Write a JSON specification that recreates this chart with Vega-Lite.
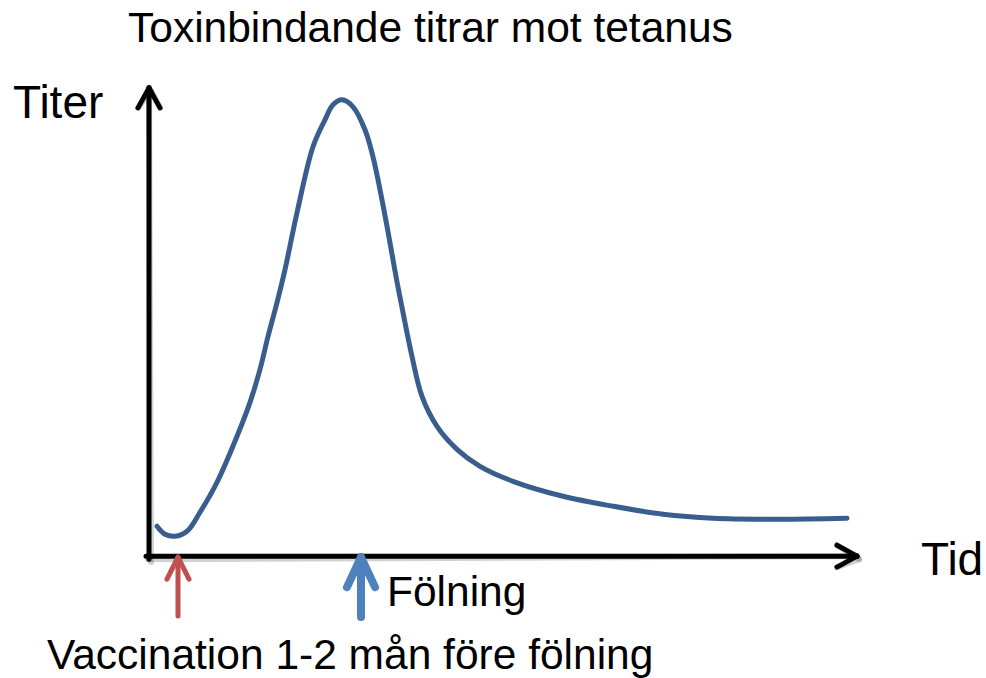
{
  "$schema": "https://vega.github.io/schema/vega-lite/v6.json",
  "autosize": {"type": "fit", "contains": "padding"},
  "width": 986,
  "height": 678,
  "padding": 0,
  "background": "white",
  "config": {"view": {"stroke": null}},
  "datasets": {
    "curve": [
      {"tid": 8, "titer": 30}, {"tid": 16, "titer": 22}, {"tid": 26, "titer": 20}, {"tid": 38, "titer": 25},
      {"tid": 51, "titer": 44}, {"tid": 68, "titer": 74}, {"tid": 88, "titer": 120}, {"tid": 101, "titer": 154},
      {"tid": 111, "titer": 187}, {"tid": 119, "titer": 220}, {"tid": 128, "titer": 254}, {"tid": 136, "titer": 287},
      {"tid": 148, "titer": 344}, {"tid": 164, "titer": 410}, {"tid": 176, "titer": 437}, {"tid": 184, "titer": 452},
      {"tid": 193, "titer": 457}, {"tid": 204, "titer": 450}, {"tid": 216, "titer": 427}, {"tid": 224, "titer": 400},
      {"tid": 231, "titer": 367}, {"tid": 239, "titer": 325}, {"tid": 247, "titer": 280}, {"tid": 254, "titer": 244},
      {"tid": 263, "titer": 200}, {"tid": 273, "titer": 160}, {"tid": 288, "titer": 130}, {"tid": 308, "titer": 107},
      {"tid": 331, "titer": 90}, {"tid": 364, "titer": 75}, {"tid": 414, "titer": 60}, {"tid": 464, "titer": 50},
      {"tid": 514, "titer": 42}, {"tid": 564, "titer": 38}, {"tid": 631, "titer": 37}, {"tid": 698, "titer": 38}
    ],
    "segments": [
      {"kind": "axis", "x1": 0, "y1": -3, "x2": 0, "y2": 469},
      {"kind": "axis", "x1": 0, "y1": 469, "x2": -11, "y2": 449},
      {"kind": "axis", "x1": 0, "y1": 469, "x2": 11, "y2": 449},
      {"kind": "axis", "x1": -3, "y1": 0, "x2": 708, "y2": 0},
      {"kind": "axis", "x1": 708, "y1": 0, "x2": 688, "y2": 11},
      {"kind": "axis", "x1": 708, "y1": 0, "x2": 688, "y2": -11},
      {"kind": "vaccination", "x1": 29, "y1": -60, "x2": 29, "y2": -3},
      {"kind": "vaccination", "x1": 29, "y1": -1, "x2": 18, "y2": -23},
      {"kind": "vaccination", "x1": 29, "y1": -1, "x2": 40, "y2": -23},
      {"kind": "folning", "x1": 212, "y1": -61, "x2": 212, "y2": -4},
      {"kind": "folning", "x1": 212, "y1": -1, "x2": 198, "y2": -31},
      {"kind": "folning", "x1": 212, "y1": -1, "x2": 226, "y2": -31}
    ],
    "labels": [
      {"kind": "title", "text": "Toxinbindande titrar mot tetanus", "tid": -21, "titer": 515},
      {"kind": "axislabel", "text": "Titer", "tid": -136, "titer": 439},
      {"kind": "axislabel", "text": "Tid", "tid": 772, "titer": -19},
      {"kind": "note", "text": "Fölning", "tid": 238, "titer": -50},
      {"kind": "note", "text": "Vaccination 1-2 mån före fölning", "tid": -102, "titer": -113}
    ]
  },
  "layer": [
    {
      "data": {"name": "segments"},
      "transform": [{"filter": "datum.kind === 'axis'"}],
      "mark": {"type": "rule", "color": "#000000", "opacity": 0.18, "strokeWidth": 6, "strokeCap": "round", "xOffset": 2, "yOffset": 3},
      "encoding": {
        "x": {"field": "x1", "type": "quantitative", "scale": {"domain": [-149, 837], "nice": false, "zero": false}, "axis": null},
        "y": {"field": "y1", "type": "quantitative", "scale": {"domain": [-121, 557], "nice": false, "zero": false}, "axis": null},
        "x2": {"field": "x2"},
        "y2": {"field": "y2"}
      }
    },
    {
      "data": {"name": "segments"},
      "transform": [{"filter": "datum.kind === 'axis'"}],
      "mark": {"type": "rule", "color": "#000000", "strokeWidth": 5, "strokeCap": "round"},
      "encoding": {
        "x": {"field": "x1", "type": "quantitative", "scale": {"domain": [-149, 837], "nice": false, "zero": false}, "axis": null},
        "y": {"field": "y1", "type": "quantitative", "scale": {"domain": [-121, 557], "nice": false, "zero": false}, "axis": null},
        "x2": {"field": "x2"},
        "y2": {"field": "y2"}
      }
    },
    {
      "data": {"name": "segments"},
      "transform": [{"filter": "datum.kind === 'vaccination'"}],
      "mark": {"type": "rule", "color": "#C0504D", "strokeWidth": 5, "strokeCap": "round"},
      "encoding": {
        "x": {"field": "x1", "type": "quantitative", "scale": {"domain": [-149, 837], "nice": false, "zero": false}, "axis": null},
        "y": {"field": "y1", "type": "quantitative", "scale": {"domain": [-121, 557], "nice": false, "zero": false}, "axis": null},
        "x2": {"field": "x2"},
        "y2": {"field": "y2"}
      }
    },
    {
      "data": {"name": "segments"},
      "transform": [{"filter": "datum.kind === 'folning'"}],
      "mark": {"type": "rule", "color": "#4F81BD", "strokeWidth": 8, "strokeCap": "round"},
      "encoding": {
        "x": {"field": "x1", "type": "quantitative", "scale": {"domain": [-149, 837], "nice": false, "zero": false}, "axis": null},
        "y": {"field": "y1", "type": "quantitative", "scale": {"domain": [-121, 557], "nice": false, "zero": false}, "axis": null},
        "x2": {"field": "x2"},
        "y2": {"field": "y2"}
      }
    },
    {
      "data": {"name": "curve"},
      "mark": {"type": "line", "color": "#395E8E", "strokeWidth": 5, "interpolate": "catmull-rom", "strokeCap": "round"},
      "encoding": {
        "x": {"field": "tid", "type": "quantitative", "scale": {"domain": [-149, 837], "nice": false, "zero": false}, "axis": null},
        "y": {"field": "titer", "type": "quantitative", "scale": {"domain": [-121, 557], "nice": false, "zero": false}, "axis": null}
      }
    },
    {
      "data": {"name": "labels"},
      "transform": [{"filter": "datum.kind !== 'axislabel'"}],
      "mark": {"type": "text", "font": "Liberation Sans", "fontSize": 42.5, "align": "left", "baseline": "alphabetic", "color": "#000000"},
      "encoding": {
        "x": {"field": "tid", "type": "quantitative", "scale": {"domain": [-149, 837], "nice": false, "zero": false}, "axis": null},
        "y": {"field": "titer", "type": "quantitative", "scale": {"domain": [-121, 557], "nice": false, "zero": false}, "axis": null},
        "text": {"field": "text"}
      }
    },
    {
      "data": {"name": "labels"},
      "transform": [{"filter": "datum.kind === 'axislabel'"}],
      "mark": {"type": "text", "font": "Liberation Sans", "fontSize": 46, "align": "left", "baseline": "alphabetic", "color": "#000000"},
      "encoding": {
        "x": {"field": "tid", "type": "quantitative", "scale": {"domain": [-149, 837], "nice": false, "zero": false}, "axis": null},
        "y": {"field": "titer", "type": "quantitative", "scale": {"domain": [-121, 557], "nice": false, "zero": false}, "axis": null},
        "text": {"field": "text"}
      }
    }
  ]
}
